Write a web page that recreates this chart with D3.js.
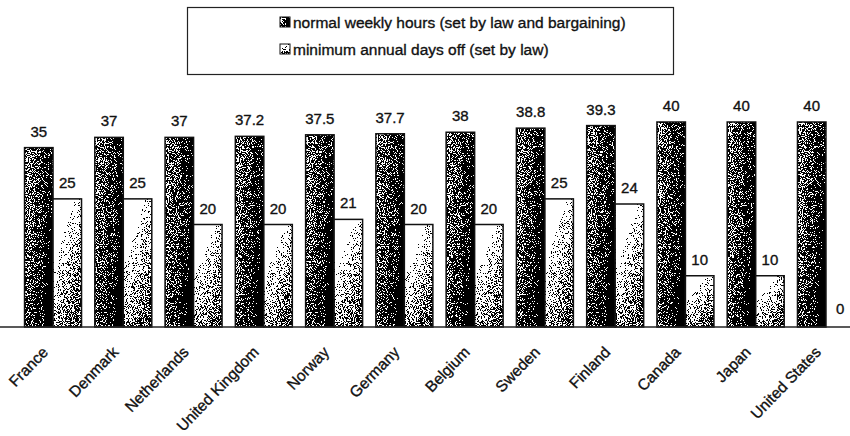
<html>
<head>
<title>hours and days off</title>
<script src="https://d3js.org/d3.v7.min.js"></script>
<style>
  body { margin: 0; background: #fff; }
  text { font-family: "Liberation Sans", Arial, sans-serif; fill: #111; stroke: #111; stroke-width: 0.35px; }
</style>
</head>
<body>
<script>
const countries = ["France", "Denmark", "Netherlands", "United Kingdom", "Norway", "Germany",
                   "Belgium", "Sweden", "Finland", "Canada", "Japan", "United States"];
const weeklyHours = [35, 37, 37, 37.2, 37.5, 37.7, 38, 38.8, 39.3, 40, 40, 40];
const daysOff = [25, 25, 20, 20, 21, 20, 20, 25, 24, 10, 10, 0];
const seriesNames = ["normal weekly hours (set by law and bargaining)",
                     "minimum annual days off (set by law)"];

const W = 850, H = 436;
const svg = d3.select("body").append("svg").attr("width", W).attr("height", H);

// stipple look: gradient fill + noise, thresholded
const defs = svg.append("defs");
const gDark = defs.append("linearGradient").attr("id", "gDark")
    .attr("x1", 0).attr("y1", 0).attr("x2", 1).attr("y2", 0.35);
gDark.append("stop").attr("offset", 0).attr("stop-color", "#8c8c8c");
gDark.append("stop").attr("offset", 0.45).attr("stop-color", "#555");
gDark.append("stop").attr("offset", 1).attr("stop-color", "#151515");
const gLight = defs.append("linearGradient").attr("id", "gLight")
    .attr("x1", 0).attr("y1", 0).attr("x2", 0.7).attr("y2", 1);
gLight.append("stop").attr("offset", 0.25).attr("stop-color", "#fff");
gLight.append("stop").attr("offset", 0.7).attr("stop-color", "#9a9a9a");
gLight.append("stop").attr("offset", 1).attr("stop-color", "#606060");

const f = defs.append("filter").attr("id", "stipple")
    .attr("color-interpolation-filters", "sRGB")
    .attr("x", 0).attr("y", 0).attr("width", 1).attr("height", 1);
f.append("feTurbulence").attr("type", "fractalNoise").attr("baseFrequency", 1.1)
    .attr("numOctaves", 2).attr("seed", 3).attr("result", "noise");
f.append("feColorMatrix").attr("in", "noise").attr("type", "matrix")
    .attr("values", "1 0 0 0 0  1 0 0 0 0  1 0 0 0 0  0 0 0 0 1").attr("result", "n1");
const ct = f.append("feComponentTransfer").attr("in", "n1").attr("result", "n2");
["feFuncR", "feFuncG", "feFuncB"].forEach(k => ct.append(k).attr("type", "linear").attr("slope", 3).attr("intercept", -1));
f.append("feComposite").attr("in", "SourceGraphic").attr("in2", "n2").attr("operator", "arithmetic")
    .attr("k1", 0).attr("k2", 1).attr("k3", 0.8).attr("k4", -0.4).attr("result", "sum");
const th = f.append("feComponentTransfer").attr("in", "sum").attr("result", "thr");
["feFuncR", "feFuncG", "feFuncB"].forEach(k => th.append(k).attr("type", "discrete").attr("tableValues", "0 1"));
f.append("feComposite").attr("in", "thr").attr("in2", "SourceAlpha").attr("operator", "in");

const fills = ["url(#gDark)", "url(#gLight)"];

// scales
const baseY = 327;
const x0 = d3.scaleBand().domain(countries).range([17.9, 861.1]).padding(0);
const x1 = d3.scaleBand().domain([0, 1]).range([0, x0.bandwidth()]).paddingInner(0).paddingOuter(0.233);
const y = d3.scaleLinear().domain([0, 40]).range([baseY, 122]);

const rows = countries.map((c, i) => ({ country: c, vals: [weeklyHours[i], daysOff[i]] }));

const groups = svg.append("g").selectAll("g").data(rows).join("g")
    .attr("transform", d => `translate(${x0(d.country)},0)`);

const bars = groups.selectAll("g.bar")
    .data(d => d.vals.map((v, k) => ({ k, v })))
    .join("g").attr("class", "bar");

bars.filter(d => d.v > 0).append("rect")
    .attr("x", d => x1(d.k)).attr("width", x1.bandwidth())
    .attr("y", d => y(d.v)).attr("height", d => baseY - y(d.v))
    .attr("fill", d => fills[d.k]).attr("filter", "url(#stipple)");
bars.filter(d => d.v > 0).append("rect")
    .attr("x", d => x1(d.k)).attr("width", x1.bandwidth())
    .attr("y", d => y(d.v)).attr("height", d => baseY - y(d.v))
    .attr("fill", "none").attr("stroke", "#111").attr("stroke-width", 1.5);

bars.append("text")
    .attr("x", d => x1(d.k) + x1.bandwidth() / 2)
    .attr("y", d => y(d.v) - (d.v > 0 ? 11 : 13))
    .attr("text-anchor", "middle").attr("font-size", 15)
    .text(d => d.v);

// baseline
svg.append("line").attr("x1", 0).attr("x2", W).attr("y1", baseY).attr("y2", baseY)
    .attr("stroke", "#222").attr("stroke-width", 1.5);

// country labels
svg.append("g").selectAll("text").data(countries).join("text")
    .attr("transform", d => `translate(${x0(d) + x0.bandwidth() / 2 - 4},${baseY + 26}) rotate(-46)`)
    .attr("text-anchor", "end").attr("font-size", 15.5)
    .text(d => d);

// legend
const lg = svg.append("g");
lg.append("rect").attr("x", 187.5).attr("y", 7.5).attr("width", 486).attr("height", 67)
    .attr("fill", "#fff").attr("stroke", "#222").attr("stroke-width", 1.2);
const items = lg.selectAll("g").data(seriesNames).join("g")
    .attr("transform", (d, i) => `translate(280,${22 + i * 27})`);
items.append("rect").attr("x", 0).attr("y", -5).attr("width", 10).attr("height", 10)
    .attr("fill", (d, i) => fills[i]).attr("filter", "url(#stipple)");
items.append("rect").attr("x", 0).attr("y", -5).attr("width", 10).attr("height", 10)
    .attr("fill", "none").attr("stroke", "#111");
items.append("text").attr("x", 13).attr("y", 5.5).attr("font-size", 15.5).text(d => d);
</script>
</body>
</html>
